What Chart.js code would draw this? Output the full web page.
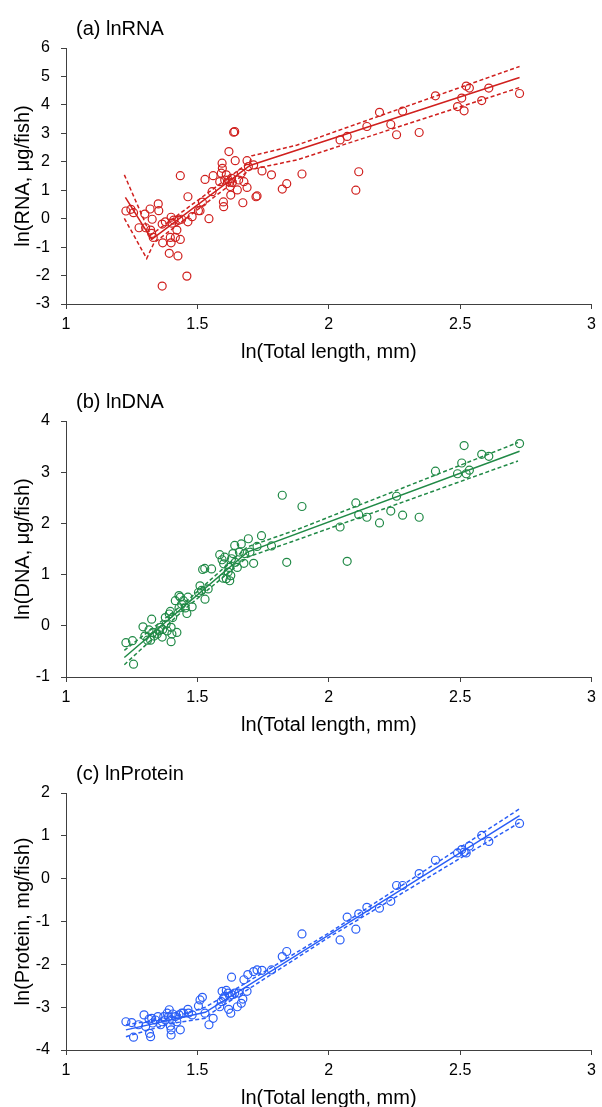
<!DOCTYPE html>
<html>
<head>
<meta charset="utf-8">
<script src="https://cdn.jsdelivr.net/npm/chart.js@4.4.0/dist/chart.umd.min.js"></script>
<style>
  html, body { margin: 0; padding: 0; background: #fff; overflow: hidden; }
  .panel { position: absolute; left: 0; width: 602px; }
</style>
</head>
<body>
<div class="panel" style="top:0;height:366px"><canvas id="rnaChart"></canvas></div>
<div class="panel" style="top:366px;height:373px"><canvas id="dnaChart"></canvas></div>
<div class="panel" style="top:739px;height:373px"><canvas id="proteinChart"></canvas></div>
<script>
const xTicks = [1, 1.5, 2, 2.5, 3];
const rnaTicks = [-3, -2, -1, 0, 1, 2, 3, 4, 5, 6];
const dnaTicks = [-1, 0, 1, 2, 3, 4];
const proteinTicks = [-4, -3, -2, -1, 0, 1, 2];

// (a) lnRNA
const rnaX = [1.228, 1.247, 1.257, 1.278, 1.30, 1.303, 1.32, 1.322, 1.326, 1.328, 1.332, 1.351, 1.353,
  1.366, 1.368, 1.366, 1.378, 1.393, 1.397, 1.40, 1.40, 1.403, 1.41, 1.416, 1.422, 1.426, 1.43, 1.435,
  1.435, 1.44, 1.46, 1.464, 1.464, 1.48, 1.504, 1.51, 1.519, 1.529, 1.544, 1.556, 1.56, 1.585, 1.591,
  1.594, 1.595, 1.599, 1.60, 1.604, 1.61, 1.617, 1.62, 1.623, 1.625, 1.627, 1.63, 1.633, 1.638, 1.642,
  1.644, 1.652, 1.657, 1.667, 1.673, 1.677, 1.689, 1.689, 1.694, 1.714, 1.723, 1.727, 1.746, 1.782,
  1.823, 1.84, 1.898, 2.043, 2.07, 2.103, 2.114, 2.145, 2.193, 2.236, 2.258, 2.281, 2.344, 2.406,
  2.49, 2.506, 2.515, 2.523, 2.535, 2.582, 2.609, 2.726];
const rnaY = [0.27, 0.33, 0.21, -0.32, 0.16, -0.32, 0.34, -0.40, -0.52, -0.02, -0.66, 0.52, 0.28,
  -0.19, -0.85, -2.37, -0.11, -1.22, -0.66, 0.05, -0.85, -0.16, -0.05, -0.66, -0.40, -1.31, -0.05, -0.73,
  1.51, -0.02, -2.02, 0.77, -0.11, 0.07, 0.28, 0.28, 0.58, 1.38, 0.0, 0.95, 1.51, 1.30, 1.60,
  1.95, 1.77, 0.59, 0.42, 1.36, 1.54, 1.36, 2.36, 1.28, 1.13, 0.83, 1.42, 1.27, 3.04, 3.06,
  2.04, 1.01, 1.36, 1.60, 0.56, 1.30, 2.04, 1.10, 1.83, 1.89, 0.77, 0.80, 1.68, 1.54,
  1.04, 1.23, 1.57, 2.77, 2.89, 1.00, 1.65, 3.24, 3.74, 3.31, 2.95, 3.78, 3.03, 4.32,
  3.94, 4.24, 3.79, 4.66, 4.59, 4.15, 4.59, 4.40];
const rnaFitX = [1.226, 1.326, 1.70, 2.726];
const rnaFit = [0.75, -0.73, 1.87, 4.96];
const rnaUpperX = [1.222, 1.322, 1.70, 1.707, 1.88, 2.726];
const rnaUpper = [1.54, -0.58, 2.0, 2.21, 2.59, 5.35];
const rnaLowerX = [1.222, 1.307, 1.335, 1.70, 1.88, 2.726];
const rnaLower = [0.01, -1.40, -0.85, 1.72, 2.07, 4.61];

// (b) lnDNA
const dnaX = [1.228, 1.253, 1.257, 1.293, 1.30, 1.31, 1.316, 1.322, 1.326, 1.33, 1.335, 1.347, 1.353,
  1.36, 1.366, 1.368, 1.378, 1.381, 1.385, 1.393, 1.397, 1.40, 1.40, 1.403, 1.406, 1.416, 1.422, 1.43,
  1.43, 1.435, 1.44, 1.447, 1.454, 1.46, 1.464, 1.48, 1.504, 1.51, 1.516, 1.529, 1.541, 1.52, 1.528,
  1.554, 1.585, 1.594, 1.598, 1.60, 1.604, 1.61, 1.617, 1.62, 1.623, 1.627, 1.63, 1.635, 1.642, 1.644,
  1.652, 1.66, 1.667, 1.677, 1.68, 1.694, 1.70, 1.714, 1.727, 1.744, 1.782, 1.823, 1.84, 1.898,
  2.043, 2.07, 2.103, 2.114, 2.145, 2.193, 2.236, 2.258, 2.281, 2.344, 2.406, 2.49, 2.506, 2.515,
  2.523, 2.535, 2.582, 2.609, 2.726];
const dnaY = [-0.33, -0.29, -0.75, -0.02, -0.20, -0.28, -0.08, -0.28, 0.13, -0.13, -0.20, -0.16, -0.10,
  -0.03, -0.22, -0.07, 0.16, 0.03, -0.10, 0.23, 0.28, -0.03, -0.31, -0.16, 0.16, 0.49, -0.13, 0.35,
  0.59, 0.56, 0.42, 0.49, 0.35, 0.24, 0.56, 0.37, 0.65, 0.78, 0.69, 0.52, 0.72, 1.10, 1.12,
  1.11, 1.39, 1.29, 0.93, 1.21, 1.34, 0.92, 1.05, 1.14, 0.88, 0.98, 1.31, 1.41, 1.57, 1.24,
  1.14, 1.44, 1.60, 1.22, 1.41, 1.70, 1.44, 1.22, 1.55, 1.76, 1.56, 2.55, 1.24, 2.33,
  1.93, 1.26, 2.40, 2.17, 2.12, 2.01, 2.24, 2.53, 2.16, 2.12, 3.02, 2.97, 3.18, 3.52,
  2.97, 3.04, 3.35, 3.31, 3.56];
const dnaFitX = [1.222, 1.69, 2.726];
const dnaFit = [-0.62, 1.44, 3.41];
const dnaBandX = [1.222, 1.45, 1.69, 1.88, 2.72];
const dnaUpper = [-0.48, 0.44, 1.54, 1.88, 3.58];
const dnaLower = [-0.76, 0.32, 1.34, 1.68, 3.22];

// (c) lnProtein
const proteinX = [1.228, 1.25, 1.257, 1.276, 1.297, 1.303, 1.316, 1.318, 1.322, 1.326, 1.33, 1.34, 1.35,
  1.36, 1.366, 1.372, 1.378, 1.385, 1.39, 1.393, 1.397, 1.40, 1.40, 1.403, 1.406, 1.416, 1.422, 1.43,
  1.435, 1.44, 1.447, 1.464, 1.466, 1.48, 1.504, 1.51, 1.519, 1.529, 1.544, 1.56, 1.585, 1.591, 1.594,
  1.599, 1.604, 1.61, 1.617, 1.619, 1.623, 1.627, 1.63, 1.632, 1.642, 1.652, 1.657, 1.667, 1.673,
  1.677, 1.689, 1.692, 1.714, 1.727, 1.746, 1.782, 1.823, 1.84, 1.898, 2.043, 2.07, 2.103, 2.114,
  2.145, 2.193, 2.236, 2.258, 2.281, 2.344, 2.406, 2.49, 2.506, 2.515, 2.523, 2.535, 2.582, 2.609, 2.726];
const proteinY = [-3.34, -3.36, -3.70, -3.41, -3.18, -3.45, -3.28, -3.61, -3.69, -3.26, -3.37, -3.30, -3.22,
  -3.41, -3.34, -3.22, -3.30, -3.14, -3.22, -3.06, -3.44, -3.65, -3.53, -3.30, -3.16, -3.22, -3.34, -3.18,
  -3.53, -3.14, -3.14, -3.05, -3.14, -3.18, -2.97, -2.83, -2.77, -3.14, -3.41, -3.26, -2.99, -2.87, -2.63,
  -2.79, -2.75, -2.61, -2.67, -3.05, -2.74, -3.14, -2.30, -2.71, -2.67, -2.99, -2.67, -2.91, -2.81,
  -2.36, -2.63, -2.24, -2.17, -2.13, -2.14, -2.13, -1.82, -1.70, -1.29, -1.43, -0.90, -1.18, -0.82,
  -0.67, -0.69, -0.53, -0.16, -0.16, 0.12, 0.43, 0.60, 0.68, 0.62, 0.60, 0.76, 1.01, 0.87, 1.29];
const proteinFitX = [1.228, 1.53, 2.726];
const proteinFit = [-3.53, -3.12, 1.47];
const proteinBandX = [1.228, 1.40, 1.53, 1.55, 2.0, 2.726];
const proteinUpper = [-3.41, -3.25, -3.0, -2.93, -1.27, 1.63];
const proteinLower = [-3.69, -3.38, -3.26, -3.15, -1.37, 1.31];

const FONT = '"Liberation Sans", Arial, sans-serif';
const toXY = (xs, ys) => xs.map((x, i) => ({ x: x, y: ys[i] }));

// panel letter title drawn just above the plot area
const panelTitle = {
  id: 'panelTitle',
  afterDraw(chart, args, opts) {
    const { ctx, chartArea } = chart;
    ctx.save();
    ctx.font = '20px ' + FONT;
    ctx.fillStyle = '#000';
    ctx.textBaseline = 'middle';
    ctx.fillText(opts.text, chartArea.left + 10, chartArea.top - 19);
    ctx.restore();
  }
};

function makePanel(id, cfg) {
  const lineSet = (data, dashed) => ({
    type: 'scatter',
    data: data,
    showLine: true,
    borderColor: cfg.color,
    borderWidth: 1.5,
    borderDash: dashed ? [4, 2.5] : [],
    pointRadius: 0,
    fill: false
  });

  const axisBase = {
    border: { color: '#404040', width: 1 },
    grid: { drawOnChartArea: false, drawTicks: true, tickLength: 5, color: '#404040' }
  };

  return new Chart(document.getElementById(id), {
    type: 'scatter',
    data: {
      datasets: [
        {
          data: toXY(cfg.x, cfg.y),
          pointStyle: 'circle',
          pointRadius: 4,
          pointBorderWidth: 1.2,
          pointBackgroundColor: 'rgba(0,0,0,0)',
          pointBorderColor: cfg.color
        },
        lineSet(toXY(cfg.fitX, cfg.fit), false),
        lineSet(toXY(cfg.upX, cfg.up), true),
        lineSet(toXY(cfg.loX, cfg.lo), true)
      ]
    },
    options: {
      responsive: true,
      maintainAspectRatio: false,
      animation: false,
      layout: { padding: { top: cfg.padTop, right: 4, left: 0, bottom: 0 } },
      plugins: {
        legend: { display: false },
        tooltip: { enabled: false },
        panelTitle: { text: cfg.title }
      },
      scales: {
        x: {
          ...axisBase,
          min: 1,
          max: 3,
          afterBuildTicks: s => { s.ticks = xTicks.map(v => ({ value: v })); },
          afterFit: s => { s.height = 62; },
          ticks: {
            padding: 6,
            color: '#000',
            font: { family: FONT, size: 16 },
            callback: v => String(v)
          },
          title: {
            display: true,
            text: 'ln(Total length, mm)',
            color: '#000',
            font: { family: FONT, size: 20 },
            padding: { top: 0, bottom: 2 }
          }
        },
        y: {
          ...axisBase,
          min: cfg.ticks[0],
          max: cfg.ticks[cfg.ticks.length - 1],
          afterBuildTicks: s => { s.ticks = cfg.ticks.map(v => ({ value: v })); },
          afterFit: s => { s.width = 66; },
          ticks: {
            padding: 11,
            color: '#000',
            font: { family: FONT, size: 16 },
            callback: v => String(v)
          },
          title: {
            display: true,
            text: cfg.yTitle,
            color: '#000',
            font: { family: FONT, size: 20 },
            padding: { top: 11, bottom: 0 }
          }
        }
      }
    },
    plugins: [panelTitle]
  });
}

makePanel('rnaChart', {
  title: '(a) lnRNA', yTitle: 'ln(RNA, μg/fish)', color: '#D0201E', padTop: 48, ticks: rnaTicks,
  x: rnaX, y: rnaY, fitX: rnaFitX, fit: rnaFit, upX: rnaUpperX, up: rnaUpper, loX: rnaLowerX, lo: rnaLower
});
makePanel('dnaChart', {
  title: '(b) lnDNA', yTitle: 'ln(DNA, μg/fish)', color: '#218A47', padTop: 55, ticks: dnaTicks,
  x: dnaX, y: dnaY, fitX: dnaFitX, fit: dnaFit, upX: dnaBandX, up: dnaUpper, loX: dnaBandX, lo: dnaLower
});
makePanel('proteinChart', {
  title: '(c) lnProtein', yTitle: 'ln(Protein, mg/fish)', color: '#2A5EF6', padTop: 54, ticks: proteinTicks,
  x: proteinX, y: proteinY, fitX: proteinFitX, fit: proteinFit, upX: proteinBandX, up: proteinUpper, loX: proteinBandX, lo: proteinLower
});
</script>
</body>
</html>
